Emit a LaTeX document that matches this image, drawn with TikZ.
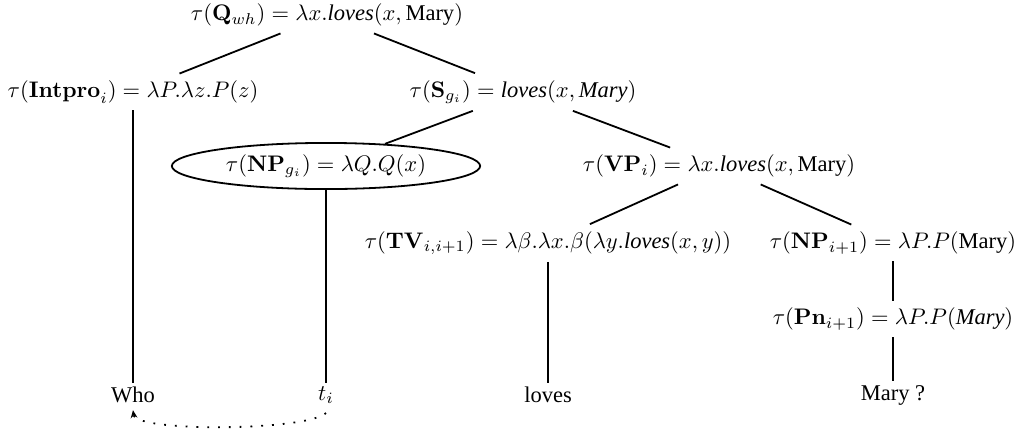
\documentclass[tikz,border=0pt]{standalone}
\usepackage{amsmath}
\usepackage[no-math]{fontspec}
\setmainfont{Liberation Serif}
\usepackage{tikz}
\usetikzlibrary{arrows.meta, shapes.geometric}

\begin{document}
\begin{tikzpicture}[x=0.4444pt, y=-0.4444pt, >=Stealth,
    sem/.style={inner sep=3pt},
    leaf/.style={inner sep=1.5pt},
    branch/.style={line width=0.8pt}]
    \useasboundingbox (0,0) rectangle (1018,430);

    % ── Root and first split ─────────────────────────────────────────
    \node[sem] (qwh) at (327,15) {$\tau(\mathbf{Q}_{wh}) = \lambda x.\textit{loves}(x, \text{Mary})$};
    \node[sem] (intpro) at (133,92) {$\tau(\mathbf{Intpro}_i) = \lambda P.\lambda z.P(z)$};
    \node[sem] (sgi) at (523,92) {$\tau(\mathbf{S}_{g_i}) = \textit{loves}(x, \textit{Mary})$};

    % ── Subject trace and verb phrase ────────────────────────────────
    \node[ellipse, draw, line width=0.8pt, minimum width=137pt, minimum height=20.5pt, inner sep=0pt]
        (npgi) at (326,166) {$\tau(\mathbf{NP}_{g_i}) = \lambda Q.Q(x)$};
    \node[sem] (vpi) at (719,166) {$\tau(\mathbf{VP}_i) = \lambda x.\textit{loves}(x, \text{Mary})$};

    % ── Verb and object ──────────────────────────────────────────────
    \node[sem] (tv) at (548,243) {$\tau(\mathbf{TV}_{i,i+1}) = \lambda\beta.\lambda x.\beta(\lambda y.\textit{loves}(x, y))$};
    \node[sem] (npobj) at (893,243) {$\tau(\mathbf{NP}_{i+1}) = \lambda P.P(\text{Mary})$};
    \node[sem] (pn) at (893,319) {$\tau(\mathbf{Pn}_{i+1}) = \lambda P.P(\textit{Mary})$};

    % ── Words ────────────────────────────────────────────────────────
    \node[leaf] (who) at (133,395) {Who};
    \node[leaf] (ti) at (326,395) {$t_i$};
    \node[leaf] (loves) at (548,395) {loves};
    \node[leaf] (mary) at (893,395) {Mary ?};

    % Branches
    \draw[branch] (qwh) -- (intpro);
    \draw[branch] (qwh) -- (sgi);
    \draw[branch] (sgi) -- (npgi);
    \draw[branch] (sgi) -- (vpi);
    \draw[branch] (vpi) -- (tv);
    \draw[branch] (vpi) -- (npobj);
    \draw[branch] (npobj) -- (pn);
    \draw[branch] (intpro) -- (who);
    \draw[branch] (npgi) -- (ti);
    \draw[branch] (tv) -- (loves);
    \draw[branch] (pn) -- (mary);

    % Movement
    \draw[->, loosely dotted, thick, >={Stealth[length=3.5pt, width=3pt]}]
        ([yshift=-2.5pt]ti.south) .. controls +(-20,18) and +(3,22) .. ([yshift=-1.5pt]who.south);
\end{tikzpicture}
\end{document}
